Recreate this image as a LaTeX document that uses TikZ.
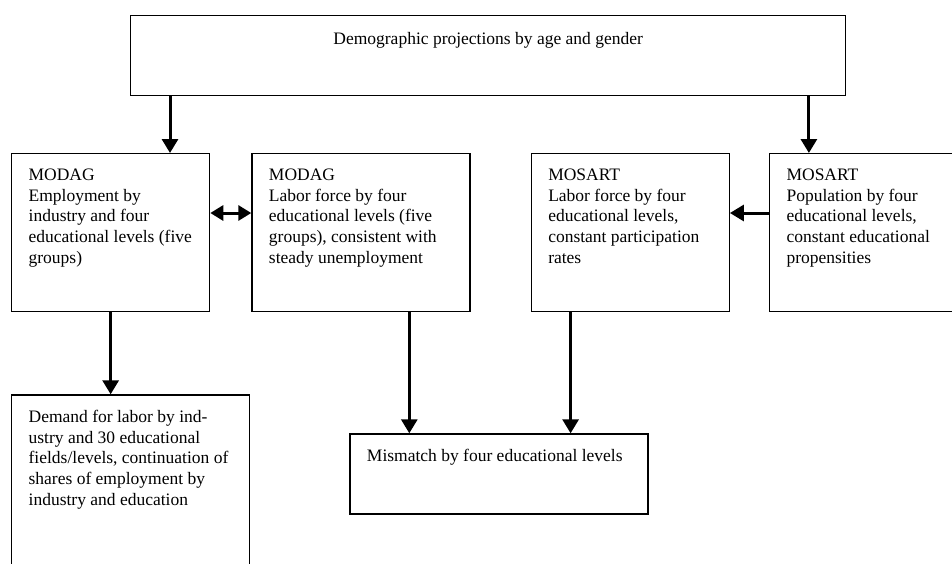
\documentclass[tikz,border=0pt]{standalone}
\usepackage{fontspec}
\setmainfont{Liberation Serif}
\usetikzlibrary{positioning}
\usetikzlibrary{arrows.meta}
\newcommand{\boxtxt}[3]{\parbox[c][#2][t]{#1}{\raggedright #3}}
\tikzset{
box/.style={
draw,
line width=1.3pt,
anchor=north west,
inner xsep=17pt,
inner ysep=15pt,
font=\fontsize{17.5}{20.8}\selectfont},
flow/.style={
line width=3pt,
-{Triangle[length=14pt,width=16pt]}},
flowboth/.style={
line width=3pt,
{Triangle[length=13pt,width=15pt]}-{Triangle[length=13pt,width=15pt]}}}

\begin{document}
\begin{tikzpicture}[x=1pt,y=-1pt]
\useasboundingbox[fill=white] (0,0) rectangle (952,563);
\clip (0,0) rectangle (952,563);
\node[box, inner ysep=17pt] (demo) at (130,15) {\parbox[c][46pt][t]{681pt}{\centering Demographic projections by age and gender}};
\node[box] (emp) at (11,153) {\boxtxt{164pt}{128pt}{MODAG\\ Employment by\\ industry and four\\ educational levels (five\\ groups)}};
\node[box, right=41pt of emp] (lab) {\boxtxt{184pt}{128pt}{MODAG\\ Labor force by four\\ educational levels (five\\ groups), consistent with\\ steady unemployment}};
\node[box, right=60pt of lab] (part) {\boxtxt{164pt}{128pt}{MOSART\\ Labor force by four\\ educational levels,\\ constant participation\\ rates}};
\node[box, right=39pt of part] (pop) {\boxtxt{164pt}{128pt}{MOSART\\ Population by four\\ educational levels,\\ constant educational\\ propensities}};
\node[box, below=82pt of emp.south west, anchor=north west] (dem) {\boxtxt{204pt}{160pt}{Demand for labor by ind-\\ ustry and 30 educational\\ fields/levels, continuation of\\ shares of employment by\\ industry and education}};
\node[box, below=121pt of lab.south west, xshift=98pt, anchor=north west] (mis) {\boxtxt{264pt}{50pt}{Mismatch by four educational levels}};
\draw[flow] ([xshift=40pt]demo.south west) -- ([xshift=40pt]demo.south west |- emp.north);
\draw[flow] ([xshift=40pt]pop.north west |- demo.south) -- ([xshift=40pt]pop.north west);
\draw[flowboth] ([yshift=-60pt]emp.north east) -- ([yshift=-60pt]lab.north west);
\draw[flow] ([yshift=-60pt]pop.north west) -- ([yshift=-60pt]part.north east);
\draw[flow] (emp.south) -- (emp.south |- dem.north);
\draw[flow] ([xshift=158pt]lab.south west) -- ([xshift=158pt]lab.south west |- mis.north);
\draw[flow] ([xshift=40pt]part.south west) -- ([xshift=40pt]part.south west |- mis.north);
\end{tikzpicture}
\end{document}
